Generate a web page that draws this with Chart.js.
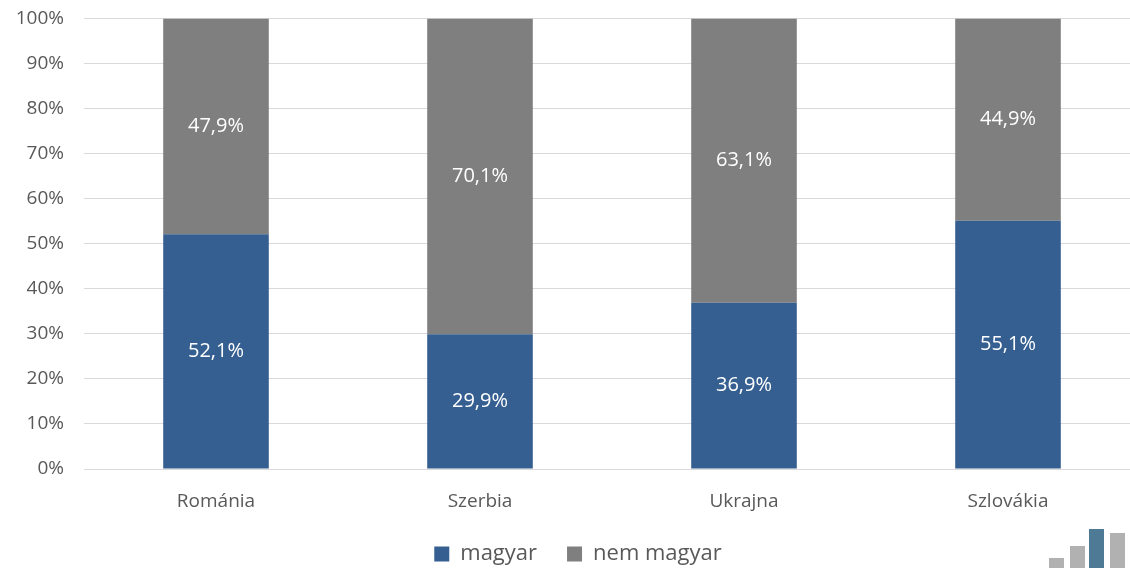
<!DOCTYPE html>
<html>
<head>
<meta charset="utf-8">
<script src="https://cdn.jsdelivr.net/npm/chart.js@4/dist/chart.umd.min.js"></script>
<style>
    html, body { margin: 0; padding: 0; background: #fff; overflow: hidden; }
    #wrap { position: relative; width: 1140px; height: 568px; overflow: hidden; }
    #chart { position: absolute; left: 0; top: -13px; }
    .logo { position: absolute; bottom: 0; width: 15px; }
</style>
</head>
<body>
<div id="wrap">
    <canvas id="chart" width="1140" height="581"></canvas>
    <!-- kis logo a jobb alsó sarokban -->
    <div class="logo" style="left:1049px;height:10px;background:#b1b1b1"></div>
    <div class="logo" style="left:1070px;height:22px;background:#b1b1b1"></div>
    <div class="logo" style="left:1089px;height:39px;background:#4e7a96"></div>
    <div class="logo" style="left:1110px;height:35px;background:#b1b1b1"></div>
</div>
<script>
// adatok
const categories = ['Románia', 'Szerbia', 'Ukrajna', 'Szlovákia'];
const magyar = [52.1, 29.9, 36.9, 55.1];
const nemMagyar = [47.9, 70.1, 63.1, 44.9];
const yTicks = [0, 10, 20, 30, 40, 50, 60, 70, 80, 90, 100];

const FONT = '"Open Sans", "Noto Sans", sans-serif';

// értékcímkék a szegmensek közepére
const labelPlugin = {
    id: 'segLabels',
    afterDatasetsDraw(chart) {
        const ctx = chart.ctx;
        ctx.save();
        ctx.fillStyle = '#ffffff';
        ctx.font = '20px ' + FONT;
        ctx.textAlign = 'center';
        ctx.textBaseline = 'middle';
        chart.data.datasets.forEach((ds, i) => {
            chart.getDatasetMeta(i).data.forEach((bar, j) => {
                const p = bar.getCenterPoint();
                ctx.fillText(ds.data[j].toFixed(1).replace('.', ',') + '%', p.x, p.y);
            });
        });
        ctx.restore();
    }
};

const chart = new Chart(document.getElementById('chart'), {
    type: 'bar',
    data: {
        labels: categories,
        datasets: [
            { label: 'magyar', data: magyar, backgroundColor: '#365f91' },
            { label: 'nem magyar', data: nemMagyar, backgroundColor: '#7f7f7f' }
        ]
    },
    options: {
        responsive: false,
        animation: false,
        layout: { padding: { top: 0, left: 16, right: 0, bottom: -7 } },
        datasets: {
            bar: { categoryPercentage: 1, barPercentage: 0.4 }
        },
        plugins: {
            legend: {
                position: 'bottom',
                labels: {
                    color: '#595959',
                    font: { family: FONT, size: 22 },
                    boxWidth: 15,
                    boxHeight: 15,
                    padding: 8,
                    // nagyobb köz a két tétel között
                    generateLabels(chart) {
                        const items = Chart.defaults.plugins.legend.labels.generateLabels(chart);
                        items.forEach((it, i) => {
                            if (i < items.length - 1) it.text = it.text + '\u2003';
                        });
                        return items;
                    }
                }
            },
            tooltip: { enabled: false }
        },
        scales: {
            x: {
                stacked: true,
                grid: { display: false },
                border: { display: false },
                ticks: {
                    color: '#595959',
                    font: { family: FONT, size: 19 },
                    padding: 13
                },
                afterFit(scale) { scale.height = 66; }
            },
            y: {
                stacked: true,
                min: 0,
                max: 100,
                afterBuildTicks(scale) {
                    scale.ticks = yTicks.map(v => ({ value: v }));
                },
                grid: { color: '#d9d9d9', lineWidth: 1, drawTicks: false },
                border: { display: false },
                ticks: {
                    color: '#595959',
                    font: { family: FONT, size: 19 },
                    padding: 20,
                    callback: v => v + '%'
                },
                afterFit(scale) { scale.width = 68; }
            }
        }
    },
    plugins: [labelPlugin]
});
</script>
</body>
</html>
